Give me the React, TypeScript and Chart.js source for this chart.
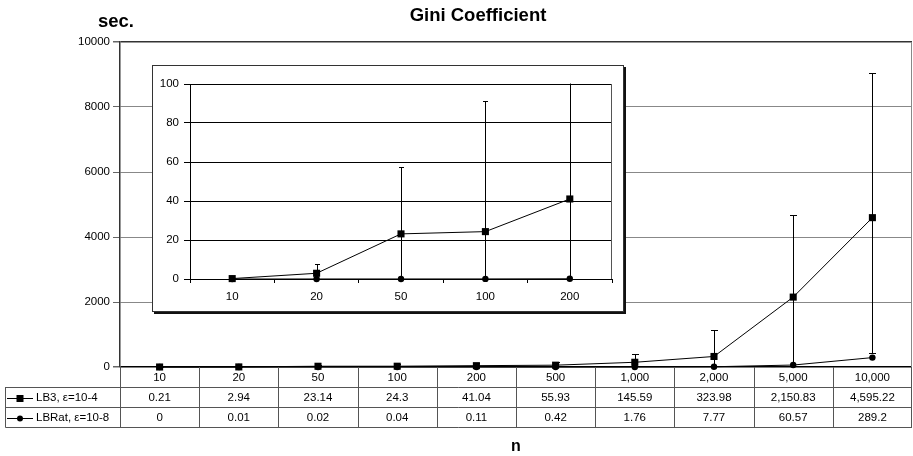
import { useEffect, useRef } from 'react';
import { Chart, registerables } from 'chart.js';

Chart.register(...registerables);

const FONT = "'Liberation Sans', Arial, Helvetica, sans-serif";

// Problem sizes (n) and mean run times in seconds
const categories = ['10', '20', '50', '100', '200', '500', '1,000', '2,000', '5,000', '10,000'];
const lb3Times = [0.21, 2.94, 23.14, 24.3, 41.04, 55.93, 145.59, 323.98, 2150.83, 4595.22];
const lbRatTimes = [0, 0.01, 0.02, 0.04, 0.11, 0.42, 1.76, 7.77, 60.57, 289.2];

// Spread of LB3 run times (upper / lower error amounts)
const lb3ErrUp = [0.3, 4.6, 34.2, 67, 75, 90, 255, 814, 2517, 4460];
const lb3ErrDown = [0.3, 4.6, 34.2, 67, 75, 90, 255, 814, 2517, 4175];

const seriesNames = ['LB3, \u03b5=10-4', 'LBRat, \u03b5=10-8'];

// Main axis range and the zoomed inset (first five sizes)
const mainYMax = 10000;
const mainYStep = 2000;
const insetCount = 5;
const insetYMax = 100;
const insetYStep = 20;

const fmt = new Intl.NumberFormat('en-US', { maximumFractionDigits: 2 });

function errorBars(capHalf: number, values: number[], up: number[], down: number[]) {
  return {
    id: 'errorBars',
    beforeDatasetsDraw(chart: any) {
      const { ctx, chartArea } = chart;
      const xs = chart.scales.x;
      const ys = chart.scales.y;
      ctx.save();
      ctx.beginPath();
      ctx.rect(chartArea.left, chartArea.top - 0.5, chartArea.right - chartArea.left, chartArea.bottom - chartArea.top + 1);
      ctx.clip();
      ctx.strokeStyle = '#000';
      ctx.lineWidth = 1;
      values.forEach((v, i) => {
        const x = Math.round(xs.getPixelForValue(i)) + 0.5;
        const yHi = Math.round(ys.getPixelForValue(v + up[i])) + 0.5;
        const yLo = Math.round(ys.getPixelForValue(v - down[i])) + 0.5;
        ctx.beginPath();
        ctx.moveTo(x, yHi);
        ctx.lineTo(x, yLo);
        ctx.moveTo(x - capHalf, yHi);
        ctx.lineTo(x + capHalf, yHi);
        ctx.moveTo(x - capHalf, yLo);
        ctx.lineTo(x + capHalf, yLo);
        ctx.stroke();
      });
      ctx.restore();
    },
  };
}

function drawMarker(ctx: CanvasRenderingContext2D, kind: 'rect' | 'circle', x: number, y: number) {
  ctx.fillStyle = '#000';
  ctx.beginPath();
  if (kind === 'rect') {
    ctx.rect(x - 3.5, y - 3.5, 7, 7);
  } else {
    ctx.arc(x, y, 3, 0, Math.PI * 2);
  }
  ctx.fill();
}

const mainDecor = {
  id: 'mainDecor',
  afterDraw(chart: any) {
    const { ctx, chartArea } = chart;
    const xs = chart.scales.x;
    const { left, right, top, bottom } = chartArea;
    const rowH = 20;
    const tableLeft = 5.5;
    const step = xs.getPixelForValue(1) - xs.getPixelForValue(0);

    ctx.save();
    // right border of plot area
    ctx.strokeStyle = '#888';
    ctx.lineWidth = 1;
    ctx.beginPath();
    ctx.moveTo(right - 0.5, top);
    ctx.lineTo(right - 0.5, bottom);
    ctx.stroke();

    // data table grid
    ctx.strokeStyle = '#555';
    ctx.beginPath();
    for (let i = 0; i <= categories.length; i++) {
      const x = Math.round(xs.getPixelForValue(i) - step / 2) + 0.5;
      const xx = Math.min(x, right - 0.5);
      ctx.moveTo(xx, bottom);
      ctx.lineTo(xx, bottom + rowH * 3);
    }
    for (let r = 1; r <= 3; r++) {
      const y = Math.round(bottom + rowH * r) + 0.5;
      ctx.moveTo(tableLeft, y);
      ctx.lineTo(right, y);
    }
    ctx.moveTo(tableLeft, bottom + rowH);
    ctx.lineTo(tableLeft, bottom + rowH * 3 + 0.5);
    ctx.stroke();

    ctx.fillStyle = '#000';
    ctx.font = `11.5px ${FONT}`;
    ctx.textAlign = 'center';
    ctx.textBaseline = 'middle';
    categories.forEach((c, i) => {
      const x = xs.getPixelForValue(i);
      ctx.fillText(c, x, bottom + 10.5);
      ctx.fillText(fmt.format(lb3Times[i]), x, bottom + rowH + 11);
      ctx.fillText(fmt.format(lbRatTimes[i]), x, bottom + rowH * 2 + 11);
    });

    // legend keys in the first column
    const kinds: ('rect' | 'circle')[] = ['rect', 'circle'];
    kinds.forEach((k, r) => {
      const y = bottom + rowH * (r + 1) + 10.5;
      ctx.strokeStyle = '#000';
      ctx.lineWidth = 1;
      ctx.beginPath();
      ctx.moveTo(7, Math.round(y) + 0.5);
      ctx.lineTo(33, Math.round(y) + 0.5);
      ctx.stroke();
      drawMarker(ctx, k, 20, Math.round(y) + 0.5);
      ctx.fillStyle = '#000';
      ctx.textAlign = 'left';
      ctx.fillText(seriesNames[r], 36, y + 0.5);
    });

    // titles
    ctx.font = `bold 18.5px ${FONT}`;
    ctx.textAlign = 'center';
    ctx.textBaseline = 'alphabetic';
    ctx.fillText('Gini Coefficient', 478, 21);
    ctx.fillText('sec.', 116, 27);
    ctx.font = `bold 16px ${FONT}`;
    ctx.fillText('n', (left + right) / 2, 451);
    ctx.restore();
  },
};

const insetDecor = {
  id: 'insetDecor',
  afterDraw(chart: any) {
    const { ctx, chartArea } = chart;
    ctx.save();
    ctx.strokeStyle = '#555';
    ctx.lineWidth = 1;
    ctx.beginPath();
    ctx.moveTo(chartArea.right - 0.5, chartArea.top);
    ctx.lineTo(chartArea.right - 0.5, chartArea.bottom);
    ctx.stroke();
    ctx.restore();
  },
};

function lineDatasets(a: number[], b: number[]) {
  return [
    {
      label: seriesNames[0],
      data: a,
      borderColor: '#000',
      backgroundColor: '#000',
      borderWidth: 1,
      pointStyle: 'rect',
      pointRadius: 5,
      pointBorderWidth: 0,
      pointBackgroundColor: '#000',
      tension: 0,
      clip: false,
    },
    {
      label: seriesNames[1],
      data: b,
      borderColor: '#000',
      backgroundColor: '#000',
      borderWidth: 1,
      pointStyle: 'circle',
      pointRadius: 3.2,
      pointBorderWidth: 0,
      pointBackgroundColor: '#000',
      tension: 0,
      clip: false,
    },
  ];
}

export default function App() {
  const mainRef = useRef<HTMLCanvasElement>(null);
  const insetRef = useRef<HTMLCanvasElement>(null);

  useEffect(() => {
    const main = new Chart(mainRef.current!, {
      type: 'line',
      data: { labels: categories, datasets: lineDatasets(lb3Times, lbRatTimes) as any },
      options: {
        responsive: false,
        animation: false,
        events: [],
        layout: { autoPadding: false, padding: { left: 0, top: 42, right: 1, bottom: 89 } },
        plugins: { legend: { display: false }, title: { display: false }, tooltip: { enabled: false } },
        scales: {
          x: { type: 'category', offset: true, display: false },
          y: {
            min: 0,
            max: mainYMax,
            ticks: {
              stepSize: mainYStep,
              color: '#000',
              padding: 3,
              font: { family: FONT, size: 11.5 },
              callback: (v: any) => String(v),
            },
            grid: {
              color: (c: any) => (c.tick && c.tick.value === 0 ? '#000' : c.tick && c.tick.value === mainYMax ? '#333' : '#888'),
              lineWidth: (c: any) => (c.tick && (c.tick.value === 0 || c.tick.value === mainYMax) ? 1.5 : 1),
              tickColor: '#666',
              tickLength: 7,
            },
            border: { color: '#333', width: 1.5 },
            afterFit: (s: any) => {
              s.width = 120;
            },
          },
        },
      } as any,
      plugins: [errorBars(3.5, lb3Times, lb3ErrUp, lb3ErrDown), mainDecor],
    });

    const inset = new Chart(insetRef.current!, {
      type: 'line',
      data: {
        labels: categories.slice(0, insetCount),
        datasets: lineDatasets(lb3Times.slice(0, insetCount), lbRatTimes.slice(0, insetCount)) as any,
      },
      options: {
        responsive: false,
        animation: false,
        events: [],
        layout: { autoPadding: false, padding: { left: 0, top: 18, right: 11, bottom: 0 } },
        plugins: { legend: { display: false }, title: { display: false }, tooltip: { enabled: false } },
        scales: {
          x: {
            type: 'category',
            offset: true,
            ticks: { color: '#000', padding: 7, font: { family: FONT, size: 11.5 }, maxRotation: 0 },
            grid: { offset: true, drawOnChartArea: false, drawTicks: true, tickLength: 4, color: '#000' },
            border: { color: '#000', width: 1 },
            afterFit: (s: any) => {
              s.height = 32;
            },
          },
          y: {
            min: 0,
            max: insetYMax,
            ticks: { stepSize: insetYStep, color: '#000', padding: 5, font: { family: FONT, size: 11.5 } },
            grid: { color: '#000', lineWidth: 1, tickColor: '#000', tickLength: 6 },
            border: { color: '#000', width: 1 },
            afterFit: (s: any) => {
              s.width = 37;
            },
          },
        },
      } as any,
      plugins: [
        errorBars(2.5, lb3Times.slice(0, insetCount), lb3ErrUp.slice(0, insetCount), lb3ErrDown.slice(0, insetCount)),
        insetDecor,
      ],
    });

    return () => {
      main.destroy();
      inset.destroy();
    };
  }, []);

  return (
    <div style={{ position: 'absolute', left: 0, top: 0, width: 913, height: 456, background: '#fff' }}>
      <canvas ref={mainRef} width={913} height={456} style={{ display: 'block', width: 913, height: 456 }} />
      <div
        style={{
          position: 'absolute',
          left: 152,
          top: 65,
          width: 472,
          height: 247,
          boxSizing: 'border-box',
          border: '1px solid #333',
          boxShadow: '2px 2px 0 #111',
          background: '#fff',
        }}
      >
        <canvas ref={insetRef} width={470} height={245} style={{ display: 'block', width: 470, height: 245 }} />
      </div>
    </div>
  );
}
